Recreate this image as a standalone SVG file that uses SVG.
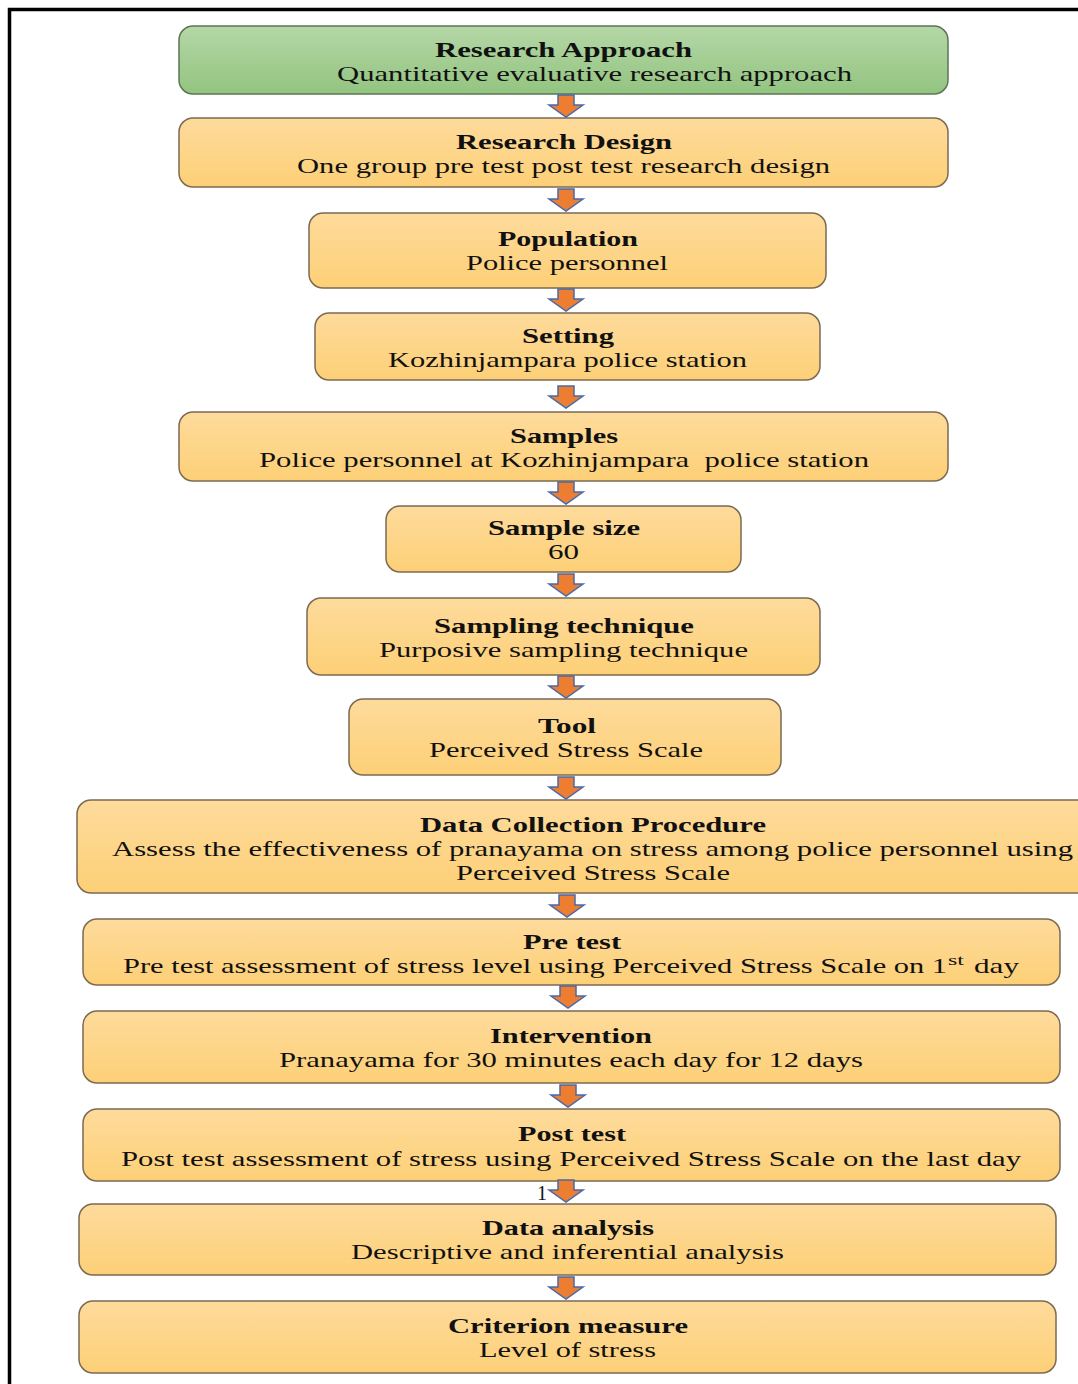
<svg xmlns="http://www.w3.org/2000/svg" width="1078" height="1384" viewBox="0 0 1078 1384">
<defs>
<linearGradient id="gOr" x1="0" y1="0" x2="0" y2="1">
<stop offset="0" stop-color="#FEDB9C"/>
<stop offset="1" stop-color="#FDD077"/>
</linearGradient>
<linearGradient id="gGr" x1="0" y1="0" x2="0" y2="1">
<stop offset="0" stop-color="#B5D7A7"/>
<stop offset="1" stop-color="#93C480"/>
</linearGradient>
<path id="arr" d="M-8,0 H8 V10 H17 L0,22 L-17,10 H-8 Z"/>
</defs>
<style>
.box{fill:url(#gOr);stroke:#7C6A52;stroke-width:1.5}
.green{fill:url(#gGr);stroke:#5C7654;stroke-width:1.5}
text{font-family:"Liberation Serif","Times New Roman",serif;font-size:22px;fill:#111;text-anchor:start}
.b{font-weight:bold}
.a{fill:#ED7D31;stroke:#4A6AA8;stroke-width:1.5}
</style>
<rect width="1078" height="1384" fill="#fff"/>
<path d="M9.5,1384 V9.5 H1078" fill="none" stroke="#000" stroke-width="3.5"/>

<g id="n1"><rect class="green" x="179" y="26" width="769" height="68" rx="14"/>
<text class="b" x="435" y="57" textLength="257" lengthAdjust="spacingAndGlyphs">Research Approach</text>
<text x="337" y="81" textLength="515" lengthAdjust="spacingAndGlyphs">Quantitative evaluative research approach</text></g>

<g id="n2"><rect class="box" x="179" y="118" width="769" height="69" rx="14"/>
<text class="b" x="456" y="149" textLength="216" lengthAdjust="spacingAndGlyphs">Research Design</text>
<text x="297" y="173" textLength="533" lengthAdjust="spacingAndGlyphs">One group pre test post test research design</text></g>

<g id="n3"><rect class="box" x="309" y="213" width="517" height="75" rx="14"/>
<text class="b" x="498" y="246" textLength="140" lengthAdjust="spacingAndGlyphs">Population</text>
<text x="466" y="270" textLength="202" lengthAdjust="spacingAndGlyphs">Police personnel</text></g>

<g id="n4"><rect class="box" x="315" y="313" width="505" height="67" rx="14"/>
<text class="b" x="522" y="343" textLength="92" lengthAdjust="spacingAndGlyphs">Setting</text>
<text x="388" y="367" textLength="359" lengthAdjust="spacingAndGlyphs">Kozhinjampara police station</text></g>

<g id="n5"><rect class="box" x="179" y="412" width="769" height="69" rx="14"/>
<text class="b" x="510" y="443" textLength="108" lengthAdjust="spacingAndGlyphs">Samples</text>
<text x="259" y="467" textLength="610" lengthAdjust="spacingAndGlyphs" xml:space="preserve">Police personnel at Kozhinjampara  police station</text></g>

<g id="n6"><rect class="box" x="386" y="506" width="355" height="66" rx="14"/>
<text class="b" x="488" y="535" textLength="152" lengthAdjust="spacingAndGlyphs">Sample size</text>
<text x="548" y="559" textLength="31" lengthAdjust="spacingAndGlyphs">60</text></g>

<g id="n7"><rect class="box" x="307" y="598" width="513" height="77" rx="14"/>
<text class="b" x="434" y="633" textLength="260" lengthAdjust="spacingAndGlyphs">Sampling technique</text>
<text x="379" y="657" textLength="369" lengthAdjust="spacingAndGlyphs">Purposive sampling technique</text></g>

<g id="n8"><rect class="box" x="349" y="699" width="432" height="76" rx="14"/>
<text class="b" x="538" y="733" textLength="58" lengthAdjust="spacingAndGlyphs">Tool</text>
<text x="429" y="757" textLength="274" lengthAdjust="spacingAndGlyphs">Perceived Stress Scale</text></g>

<g id="n9"><rect class="box" x="77" y="800" width="1020" height="93" rx="14"/>
<text class="b" x="420" y="832" textLength="346" lengthAdjust="spacingAndGlyphs">Data Collection Procedure</text>
<text x="112" y="856" textLength="961" lengthAdjust="spacingAndGlyphs">Assess the effectiveness of pranayama on stress among police personnel using</text>
<text x="456" y="880" textLength="274" lengthAdjust="spacingAndGlyphs">Perceived Stress Scale</text></g>

<g id="n10"><rect class="box" x="83" y="919" width="977" height="66" rx="14"/>
<text class="b" x="523" y="949" textLength="98" lengthAdjust="spacingAndGlyphs">Pre test</text>
<text x="123" y="973" textLength="824" lengthAdjust="spacingAndGlyphs">Pre test assessment of stress level using Perceived Stress Scale on 1</text>
<text x="948" y="965" style="font-size:14px" textLength="16" lengthAdjust="spacingAndGlyphs">st</text>
<text x="974" y="973" textLength="45" lengthAdjust="spacingAndGlyphs">day</text></g>

<g id="n11"><rect class="box" x="83" y="1011" width="977" height="72" rx="14"/>
<text class="b" x="490" y="1043" textLength="162" lengthAdjust="spacingAndGlyphs">Intervention</text>
<text x="279" y="1067" textLength="584" lengthAdjust="spacingAndGlyphs">Pranayama for 30 minutes each day for 12 days</text></g>

<g id="n12"><rect class="box" x="83" y="1109" width="977" height="72" rx="14"/>
<text class="b" x="518" y="1141" textLength="108" lengthAdjust="spacingAndGlyphs">Post test</text>
<text x="121" y="1166" textLength="900" lengthAdjust="spacingAndGlyphs">Post test assessment of stress using Perceived Stress Scale on the last day</text></g>

<g id="n13"><rect class="box" x="79" y="1204" width="977" height="71" rx="14"/>
<text class="b" x="482" y="1235" textLength="172" lengthAdjust="spacingAndGlyphs">Data analysis</text>
<text x="351" y="1259" textLength="433" lengthAdjust="spacingAndGlyphs">Descriptive and inferential analysis</text></g>

<g id="n14"><rect class="box" x="79" y="1301" width="977" height="72" rx="14"/>
<text class="b" x="448" y="1333" textLength="240" lengthAdjust="spacingAndGlyphs">Criterion measure</text>
<text x="479" y="1357" textLength="177" lengthAdjust="spacingAndGlyphs">Level of stress</text></g>

<text x="537" y="1200" style="font-size:20px">1</text>

<g id="connectors">
<use href="#arr" class="a" x="566" y="95"/>
<use href="#arr" class="a" x="566" y="189"/>
<use href="#arr" class="a" x="566" y="289"/>
<use href="#arr" class="a" x="566" y="386"/>
<use href="#arr" class="a" x="566" y="482"/>
<use href="#arr" class="a" x="566" y="574"/>
<use href="#arr" class="a" x="566" y="676"/>
<use href="#arr" class="a" x="566" y="777"/>
<use href="#arr" class="a" x="567" y="895"/>
<use href="#arr" class="a" x="568" y="986"/>
<use href="#arr" class="a" x="568" y="1085"/>
<use href="#arr" class="a" x="566" y="1180"/>
<use href="#arr" class="a" x="566" y="1277"/>
</g>
</svg>
